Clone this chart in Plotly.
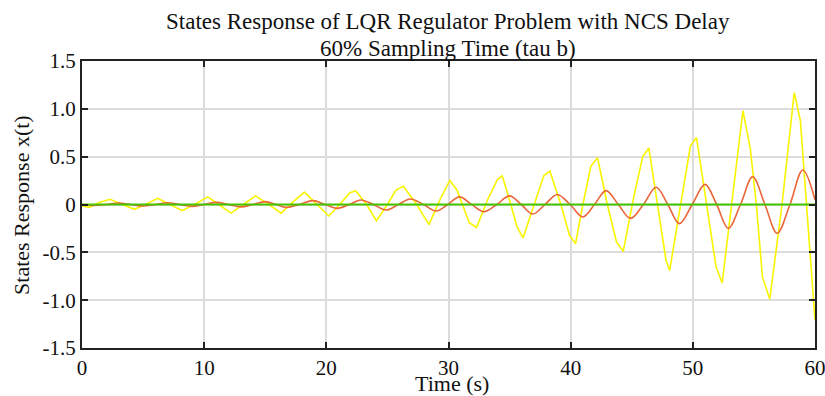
import plotly.graph_objects as go

# Yellow state (piecewise linear vertices)
yellow_t = [0, 0.6, 1.4, 2.3, 3.3, 4.3, 5.2, 6.2, 7.2, 8.2, 9.2, 10.3, 11.2, 12.2, 13.2, 14.2,
            15.3, 16.3, 17.3, 18.2, 18.6, 19.4, 20.2, 21.1, 21.9, 22.4, 23.3, 24.1, 25.0, 25.7,
            26.3, 27.4, 28.4, 29.3, 30.1, 30.7, 31.7, 32.3, 33.2, 34.0, 34.4, 35.1, 35.6, 36.1,
            37.0, 37.8, 38.3, 39.2, 39.9, 40.4, 41.0, 41.65, 42.2, 43.0, 43.75, 44.3, 45.2, 45.9,
            46.4, 47.1, 47.8, 48.1, 49.0, 49.8, 50.3, 51.1, 51.9, 52.4, 53.2, 54.1, 54.7, 55.2,
            55.7, 56.3, 57.3, 58.3, 58.8, 59.3, 60.0]
yellow_v = [-0.015, -0.03, 0.02, 0.055, 0.0, -0.05, 0.0, 0.065, 0.0, -0.065, 0.0, 0.08, 0.0, -0.09, 0.0, 0.09,
            0.0, -0.09, 0.03, 0.13, 0.08, -0.02, -0.12, 0.0, 0.12, 0.145, 0.0, -0.17, 0.0, 0.15,
            0.19, 0.0, -0.21, 0.05, 0.25, 0.15, -0.19, -0.24, 0.05, 0.26, 0.30, 0.0, -0.23, -0.35,
            0.0, 0.30, 0.35, 0.0, -0.32, -0.41, 0.0, 0.40, 0.49, 0.0, -0.39, -0.49, 0.1, 0.50,
            0.59, 0.0, -0.58, -0.69, 0.0, 0.61, 0.70, 0.0, -0.65, -0.82, 0.0, 0.98, 0.59, 0.0,
            -0.76, -0.99, 0.0, 1.17, 0.88, 0.0, -1.21]

# Orange state (smooth)
orange_t = [0, 1.0, 2.0, 3.0, 4.0, 5.0, 6.0, 7.0, 8.0, 9.0, 10.0, 11.0, 12.0, 13.0, 14.0, 15.0,
            15.9, 16.7, 17.8, 18.9, 19.9, 20.9, 21.9, 22.8, 23.85, 24.9, 25.9, 26.9, 27.95, 29.0,
            29.95, 30.9, 31.9, 32.9, 33.95, 35.0, 35.95, 36.9, 37.9, 38.9, 39.95, 41.0, 41.95, 42.9,
            43.9, 44.9, 45.95, 47.0, 47.95, 48.9, 49.95, 51.0, 51.95, 52.9, 53.9, 54.9, 55.9, 56.9,
            57.95, 59.0, 60.0]
orange_v = [0, -0.01, 0, 0.015, 0, -0.015, 0, 0.018, 0, -0.02, 0, 0.022, 0, -0.025, 0, 0.03,
            0, -0.03, 0, 0.04, 0, -0.04, 0, 0.047, 0, -0.058, 0, 0.058, 0, -0.068,
            0, 0.08, 0, -0.075, 0, 0.09, 0, -0.10, 0, 0.105, 0, -0.13, 0, 0.145,
            0, -0.145, 0, 0.18, 0, -0.20, 0, 0.21, 0, -0.25, 0, 0.29, 0, -0.30,
            0, 0.36, 0.05]

# Green state (stays at zero)
green_t = [0, 60]
green_v = [0, 0]

x_ticks = [0, 10, 20, 30, 40, 50, 60]
y_ticks = [-1.5, -1.0, -0.5, 0, 0.5, 1.0, 1.5]
y_tick_text = ["-1.5", "-1.0", "-0.5", "0", "0.5", "1.0", "1.5"]

FONT = "Liberation Serif"

fig = go.Figure()
fig.add_trace(go.Scatter(x=yellow_t, y=yellow_v, mode="lines",
                         line=dict(color="#F8F400", width=1.6), showlegend=False))
fig.add_trace(go.Scatter(x=orange_t, y=orange_v, mode="lines",
                         line=dict(color="#EA6638", width=1.6, shape="spline", smoothing=1.0),
                         showlegend=False))
fig.add_trace(go.Scatter(x=green_t, y=green_v, mode="lines",
                         line=dict(color="#44C400", width=2), showlegend=False))

axis_common = dict(showline=True, linecolor="#222222", linewidth=2, mirror="ticks",
                   ticks="inside", ticklen=6, tickwidth=1.5, tickcolor="#222222",
                   showgrid=True, gridcolor="#DCDCDC", gridwidth=1.5, zeroline=False,
                   automargin=False, ticklabeloverflow="allow",
                   tickfont=dict(family=FONT, size=21, color="#111111"))

fig.update_layout(
    width=825, height=396,
    margin=dict(l=82, r=10, t=61, b=48),
    paper_bgcolor="white", plot_bgcolor="white",
    xaxis=dict(range=[0, 60], tickvals=x_ticks, **axis_common),
    yaxis=dict(range=[-1.5, 1.5], tickvals=y_ticks, ticktext=y_tick_text, **axis_common),
    annotations=[
        dict(text="States Response of LQR Regulator Problem with NCS Delay", xref="paper", yref="paper",
             x=0.499, y=1.139, xanchor="center", yanchor="middle", showarrow=False,
             font=dict(family=FONT, size=23, color="#111111")),
        dict(text="60% Sampling Time (tau b)", xref="paper", yref="paper",
             x=0.499, y=1.045, xanchor="center", yanchor="middle", showarrow=False,
             font=dict(family=FONT, size=23, color="#111111")),
        dict(text="Time (s)", xref="paper", yref="paper",
             x=0.505, y=-0.125, xanchor="center", yanchor="middle", showarrow=False,
             font=dict(family=FONT, size=22, color="#111111")),
        dict(text="States Response x(t)", xref="paper", yref="paper",
             x=-0.0826, y=0.5, xanchor="center", yanchor="middle", showarrow=False, textangle=-90,
             font=dict(family=FONT, size=22, color="#111111")),
    ],
)

fig.write_html("out.html")
